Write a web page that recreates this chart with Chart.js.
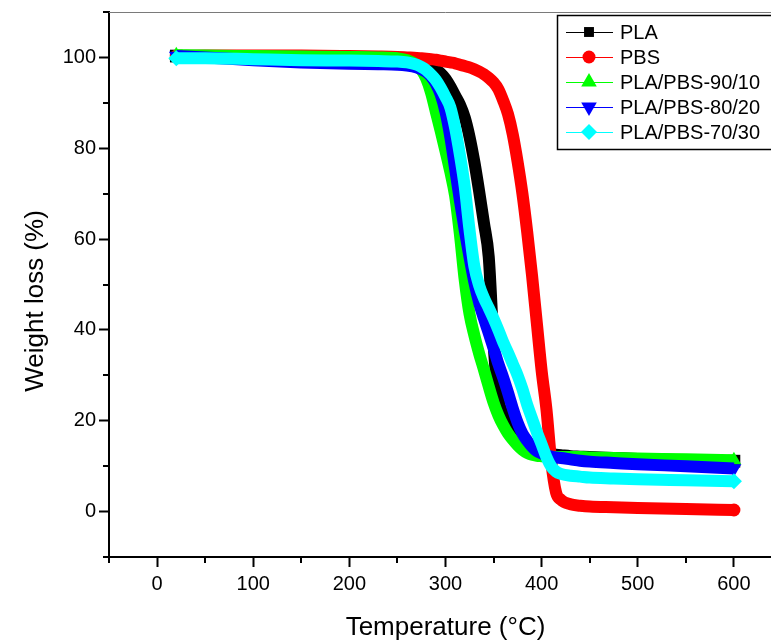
<!DOCTYPE html>
<html>
<head>
<meta charset="utf-8">
<script src="https://cdn.jsdelivr.net/npm/chart.js@4.4.1/dist/chart.umd.min.js"></script>
<style>
  html, body { margin: 0; padding: 0; background: #fff; overflow: hidden; }
  #wrap { width: 784px; height: 643px; }
</style>
</head>
<body>
<div id="wrap"><canvas id="tga" width="784" height="643"></canvas></div>
<script>
// temperature grid (°C)
const temps = [20, 50, 100, 150, 200, 230, 250, 260, 270, 275, 280, 285, 290, 295, 300, 305, 310, 315, 320, 325,
    330, 335, 340, 345, 350, 355, 360, 365, 370, 375, 380, 385, 390, 395, 400, 405, 410, 415, 420, 430,
    440, 450, 475, 500, 550, 600];

const plaLoss = [100.3, 100.1, 99.7, 99.5, 99.4, 99.3, 99.2, 99.1, 98.9, 98.7, 98.4, 98.0, 97.3, 96.5, 95.3, 93.6, 91.6, 89.6, 86.8, 82.5,
    77.0, 70.5, 63.5, 56.0, 37.0, 25.0, 21.5, 19.6, 18.2, 17.0, 15.8, 14.6, 13.7, 13.2, 12.9, 12.7, 12.6, 12.5, 12.4, 12.2,
    12.1, 12.0, 11.8, 11.6, 11.3, 11.1];

const pbsLoss = [100.3, 100.4, 100.4, 100.4, 100.3, 100.2, 100.1, 100.0, 99.9, 99.8, 99.7, 99.6, 99.5, 99.3, 99.1, 98.9, 98.7, 98.4, 98.1, 97.8,
    97.4, 96.9, 96.3, 95.5, 94.5, 93.0, 90.5, 87.5, 83.0, 77.0, 70.0, 61.5, 52.0, 41.5, 31.0, 22.5, 11.0, 4.2, 2.6, 1.6,
    1.3, 1.1, 0.95, 0.8, 0.55, 0.35];

const blend9010Loss = [100.5, 100.4, 100.3, 100.2, 100.1, 100.0, 99.8, 99.4, 98.3, 97.2, 95.3, 92.2, 88.0, 83.8, 79.4, 74.8, 69.5, 61.0, 51.0, 43.5,
    38.8, 34.8, 31.2, 27.5, 24.0, 21.2, 19.0, 17.2, 15.8, 14.6, 13.6, 12.9, 12.5, 12.3, 12.2, 12.1, 12.1, 12.0, 12.0, 12.0,
    12.0, 11.9, 11.8, 11.7, 11.5, 11.3];

const blend8020Loss = [100.3, 100.0, 99.4, 98.9, 98.6, 98.5, 98.4, 98.2, 97.8, 97.4, 96.8, 95.8, 94.2, 91.8, 88.0, 82.5, 75.5, 68.5, 62.0, 56.0,
    50.5, 46.0, 42.5, 39.3, 36.0, 32.5, 29.5, 26.2, 22.7, 19.6, 17.2, 15.6, 14.3, 13.3, 12.8, 12.4, 12.1, 11.9, 11.8, 11.5,
    11.2, 11.0, 10.7, 10.4, 10.0, 9.5];

const blend7030Loss = [99.8, 99.8, 99.6, 99.4, 99.3, 99.2, 99.1, 98.9, 98.4, 97.9, 97.2, 96.2, 95.0, 93.3, 91.3, 89.0, 84.5, 78.5, 71.5, 62.0,
    54.0, 49.8, 47.0, 44.8, 42.5, 40.0, 37.3, 35.0, 32.5, 30.0, 27.0, 23.5, 20.5, 17.5, 14.8, 12.0, 9.9, 8.8, 8.3, 7.9,
    7.7, 7.5, 7.3, 7.1, 6.9, 6.7];

const seriesNames = ["PLA", "PBS", "PLA/PBS-90/10", "PLA/PBS-80/20", "PLA/PBS-70/30"];
const seriesValues = [plaLoss, pbsLoss, blend9010Loss, blend8020Loss, blend7030Loss];

const colors = ["#000000", "#ff0000", "#00ff00", "#0000ff", "#00ffff"];
const markers = [
    { style: "rect", rot: 0, r: 9, legendR: 7 },
    { style: "circle", rot: 0, r: 6.5, legendR: 6.5 },
    { style: "triangle", rot: 0, r: 8.5, legendR: 9 },
    { style: "triangle", rot: 180, r: 8.5, legendR: 9 },
    { style: "rectRot", rot: 0, r: 8, legendR: 8 }
];

const FONT = "'Liberation Sans', Arial, sans-serif";

const datasets = seriesNames.map((name, i) => ({
    label: name,
    data: temps.map((t, j) => ({ x: t, y: seriesValues[i][j] })),
    borderColor: colors[i],
    backgroundColor: colors[i],
    borderWidth: 12,
    borderJoinStyle: "round",
    cubicInterpolationMode: "monotone",
    pointStyle: markers[i].style,
    pointRotation: markers[i].rot,
    pointRadius: c => (c.dataIndex === 0 || c.dataIndex === temps.length - 1) ? markers[i].r : 0,
    pointBackgroundColor: colors[i],
    pointBorderWidth: 0,
    order: seriesNames.length - i
}));

const decor = {
    id: "decor",
    afterDraw(chart) {
        const ctx = chart.ctx;
        const a = chart.chartArea;
        const xs = chart.scales.x;
        const ys = chart.scales.y;
        ctx.save();

        // thin top frame line
        ctx.strokeStyle = "#7a7a7a";
        ctx.lineWidth = 1;
        ctx.beginPath();
        ctx.moveTo(a.left, a.top + 0.5);
        ctx.lineTo(a.right, a.top + 0.5);
        ctx.stroke();

        // minor ticks
        ctx.strokeStyle = "#000";
        ctx.lineWidth = 2;
        xs.ticks.forEach(t => {
            if (t.value % 100 !== 0) {
                const px = Math.round(xs.getPixelForValue(t.value));
                ctx.beginPath();
                ctx.moveTo(px, a.bottom);
                ctx.lineTo(px, a.bottom + 6);
                ctx.stroke();
            }
        });
        ys.ticks.forEach(t => {
            if (t.value % 20 !== 0) {
                const py = Math.round(ys.getPixelForValue(t.value));
                ctx.beginPath();
                ctx.moveTo(a.left, py);
                ctx.lineTo(a.left - 6, py);
                ctx.stroke();
            }
        });

        // y axis title
        ctx.save();
        ctx.translate(36, 301);
        ctx.rotate(-Math.PI / 2);
        ctx.fillStyle = "#000";
        ctx.font = "26px " + FONT;
        ctx.textAlign = "center";
        ctx.textBaseline = "middle";
        ctx.fillText("Weight loss (%)", 0, 0);
        ctx.restore();

        // legend
        const lx = 557, ly = 15;
        ctx.fillStyle = "#fff";
        ctx.fillRect(lx, ly, 260, 134);
        ctx.strokeStyle = "#000";
        ctx.lineWidth = 1.5;
        ctx.strokeRect(lx + 0.5, ly + 0.5, 260, 134);
        ctx.font = "20px " + FONT;
        ctx.textBaseline = "middle";
        ctx.textAlign = "left";
        seriesNames.forEach((name, i) => {
            const y = ly + 17 + i * 25;
            ctx.strokeStyle = colors[i];
            ctx.lineWidth = 1;
            ctx.beginPath();
            ctx.moveTo(566, y + 0.5);
            ctx.lineTo(613, y + 0.5);
            ctx.stroke();
            ctx.fillStyle = colors[i];
            Chart.helpers.drawPoint(ctx, {
                pointStyle: markers[i].style,
                rotation: markers[i].rot,
                radius: markers[i].legendR,
                borderWidth: 0
            }, 589, y);
            ctx.fillStyle = "#000";
            ctx.fillText(name, 620, y + 1);
        });
        ctx.restore();
    }
};

new Chart(document.getElementById("tga"), {
    type: "line",
    data: { datasets: datasets },
    plugins: [decor],
    options: {
        responsive: false,
        animation: false,
        events: [],
        devicePixelRatio: 1,
        layout: { autoPadding: false, padding: { top: 12, right: 2, left: 0, bottom: 0 } },
        plugins: {
            legend: { display: false },
            tooltip: { enabled: false }
        },
        scales: {
            x: {
                type: "linear",
                min: -50,
                max: 650,
                afterFit: s => { s.height = 86; s.paddingLeft = 0; s.paddingRight = 0; },
                border: { display: true, color: "#000", width: 2 },
                grid: {
                    drawOnChartArea: false,
                    drawTicks: true,
                    tickLength: 10,
                    tickWidth: 2,
                    tickColor: c => (c.tick && c.tick.value % 100 === 0) ? "#000" : "rgba(0,0,0,0)"
                },
                ticks: {
                    stepSize: 50,
                    autoSkip: false,
                    maxRotation: 0,
                    padding: 5,
                    color: "#000",
                    font: { family: FONT, size: 20 },
                    callback: v => (v % 100 === 0 ? String(v) : "")
                },
                title: {
                    display: true,
                    text: "Temperature (°C)",
                    color: "#000",
                    font: { family: FONT, size: 26 },
                    padding: { top: 0, bottom: 0 }
                }
            },
            y: {
                min: -10,
                max: 110,
                afterFit: s => { s.width = 109; s.paddingTop = 0; s.paddingBottom = 0; },
                border: { display: true, color: "#000", width: 2 },
                grid: {
                    drawOnChartArea: false,
                    drawTicks: true,
                    tickLength: 10,
                    tickWidth: 2,
                    tickColor: c => (c.tick && c.tick.value % 20 === 0) ? "#000" : "rgba(0,0,0,0)"
                },
                ticks: {
                    stepSize: 10,
                    autoSkip: false,
                    padding: 3,
                    color: "#000",
                    font: { family: FONT, size: 20 },
                    callback: v => (v % 20 === 0 ? String(v) : "")
                }
            }
        }
    }
});
</script>
</body>
</html>
